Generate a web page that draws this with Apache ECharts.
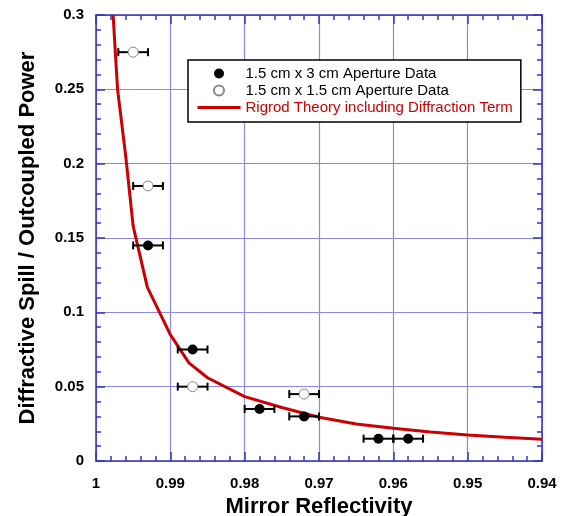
<!DOCTYPE html>
<html>
<head>
<meta charset="utf-8">
<script src="https://cdn.jsdelivr.net/npm/echarts@6/dist/echarts.min.js"></script>
<style>html,body{margin:0;padding:0;background:#fff;}#c{width:565px;height:516px;}</style>
</head>
<body>
<div id="c"></div>
<script>
// Rigrod theory curve (mirror reflectivity vs spill ratio)
const rigrodR = [0.9977, 0.9971, 0.9960, 0.9950, 0.9931, 0.9900, 0.9875, 0.9850, 0.9800, 0.9750, 0.9700, 0.9650, 0.9600, 0.9550, 0.9500, 0.9450, 0.9400];
const rigrodP = [0.300, 0.250, 0.205, 0.158, 0.117, 0.085, 0.066, 0.056, 0.0433, 0.036, 0.0294, 0.0249, 0.0220, 0.0195, 0.0175, 0.0160, 0.0146];
// 1.5 cm x 3 cm aperture data
const fullR = [0.993, 0.987, 0.978, 0.972, 0.962, 0.958];
const fullP = [0.145, 0.075, 0.035, 0.030, 0.015, 0.015];
// 1.5 cm x 1.5 cm aperture data
const openR = [0.995, 0.993, 0.987, 0.972];
const openP = [0.275, 0.185, 0.050, 0.045];
// horizontal error (reflectivity)
const rErr = 0.002;
const xTicks = [1, 0.99, 0.98, 0.97, 0.96, 0.95, 0.94];
const yTicks = [0, 0.05, 0.1, 0.15, 0.2, 0.25, 0.3];

const names = ['1.5 cm x 3 cm Aperture Data', '1.5 cm x 1.5 cm Aperture Data', 'Rigrod Theory including Diffraction Term'];
const axisBlue = '#3535c0';
const gridBlue = '#8a8ae6';
const fontFam = '"Liberation Sans", Arial, sans-serif';

const zip = (a, b) => a.map((v, i) => [v, b[i]]);
const errData = fullR.map((r, i) => [r, fullP[i], rErr]).concat(openR.map((r, i) => [r, openP[i], rErr]));

function errRender(params, api) {
  const x = api.value(0), y = api.value(1), e = api.value(2);
  const p1 = api.coord([x - e, y]);
  const p2 = api.coord([x + e, y]);
  const cap = 4;
  const st = { stroke: '#000', lineWidth: 2 };
  return {
    type: 'group',
    children: [
      { type: 'line', shape: { x1: p1[0], y1: p1[1], x2: p2[0], y2: p2[1] }, style: st },
      { type: 'line', shape: { x1: p1[0], y1: p1[1] - cap, x2: p1[0], y2: p1[1] + cap }, style: st },
      { type: 'line', shape: { x1: p2[0], y1: p2[1] - cap, x2: p2[0], y2: p2[1] + cap }, style: st }
    ]
  };
}

const xBase = {
  type: 'value', min: 0.94, max: 1, interval: 0.01, inverse: true,
  axisLine: { show: true, onZero: false, lineStyle: { color: axisBlue, width: 1.5 } },
  axisTick: { show: true, inside: true, length: 9, lineStyle: { color: axisBlue, width: 1.5 } },
  minorTick: { show: true, splitNumber: 5, length: 5, lineStyle: { color: axisBlue, width: 1.5 } }
};
const yBase = {
  type: 'value', min: 0, max: 0.3, interval: 0.05,
  axisLine: { show: true, onZero: false, lineStyle: { color: axisBlue, width: 1.5 } },
  axisTick: { show: true, inside: true, length: 9, lineStyle: { color: axisBlue, width: 1.5 } },
  minorTick: { show: true, splitNumber: 5, length: 5, lineStyle: { color: axisBlue, width: 1.5 } }
};

const chart = echarts.init(document.getElementById('c'), null, { renderer: 'canvas' });
chart.setOption({
  animation: false,
  backgroundColor: '#fff',
  grid: { left: 96, right: 23, top: 15, bottom: 55, outerBoundsMode: 'none', containLabel: false },
  legend: {
    orient: 'vertical', left: 188, top: 60,
    padding: [6, 8, 7, 8], itemGap: 2,
    itemWidth: 43, itemHeight: 10,
    backgroundColor: '#fff', borderColor: '#000', borderWidth: 1.5,
    textStyle: { fontFamily: fontFam, fontSize: 15, color: '#000' },
    data: [
      { name: names[0] },
      { name: names[1] },
      { name: names[2], textStyle: { color: '#cc0000' },
        itemStyle: { color: 'rgba(0,0,0,0)', borderWidth: 0, opacity: 0 },
        lineStyle: { color: '#cc0000', width: 3 } }
    ]
  },
  xAxis: [
    Object.assign({}, xBase, {
      position: 'bottom',
      name: 'Mirror Reflectivity', nameLocation: 'middle', nameGap: 34,
      nameTextStyle: { fontFamily: fontFam, fontWeight: 'bold', fontSize: 22, color: '#000' },
      axisLabel: { margin: 15, fontFamily: fontFam, fontWeight: 'bold', fontSize: 15, color: '#000',
        formatter: v => String(+v.toFixed(2)) },
      splitLine: { show: true, lineStyle: { color: gridBlue, width: 1.2 } }
    }),
    Object.assign({}, xBase, { position: 'top', axisLabel: { show: false }, splitLine: { show: false } })
  ],
  yAxis: [
    Object.assign({}, yBase, {
      position: 'left',
      name: 'Diffractive Spill / Outcoupled Power', nameLocation: 'middle', nameGap: 57,
      nameTextStyle: { fontFamily: fontFam, fontWeight: 'bold', fontSize: 22, color: '#000' },
      axisLabel: { margin: 12, fontFamily: fontFam, fontWeight: 'bold', fontSize: 15, color: '#000',
        formatter: v => String(+v.toFixed(2)) },
      splitLine: { show: true, lineStyle: { color: gridBlue, width: 1.2 } }
    }),
    Object.assign({}, yBase, { position: 'right', axisLabel: { show: false }, splitLine: { show: false } })
  ],
  series: [
    {
      name: names[2], type: 'line', data: zip(rigrodR, rigrodP),
      symbol: 'none', showSymbol: false, clip: true,
      lineStyle: { color: '#cc0000', width: 3 }, itemStyle: { color: '#cc0000' }, z: 3
    },
    {
      name: 'err', type: 'custom', renderItem: errRender, data: errData,
      encode: { x: [0], y: 1 }, z: 4, silent: true
    },
    {
      name: names[0], type: 'scatter', data: zip(fullR, fullP),
      symbol: 'circle', symbolSize: 10,
      itemStyle: { color: '#000', opacity: 1 }, z: 5
    },
    {
      name: names[1], type: 'scatter', data: zip(openR, openP),
      symbol: 'circle', symbolSize: 10,
      itemStyle: { color: '#fff', borderColor: '#888', borderWidth: 1, opacity: 1 }, z: 5
    }
  ]
});
</script>
</body>
</html>
